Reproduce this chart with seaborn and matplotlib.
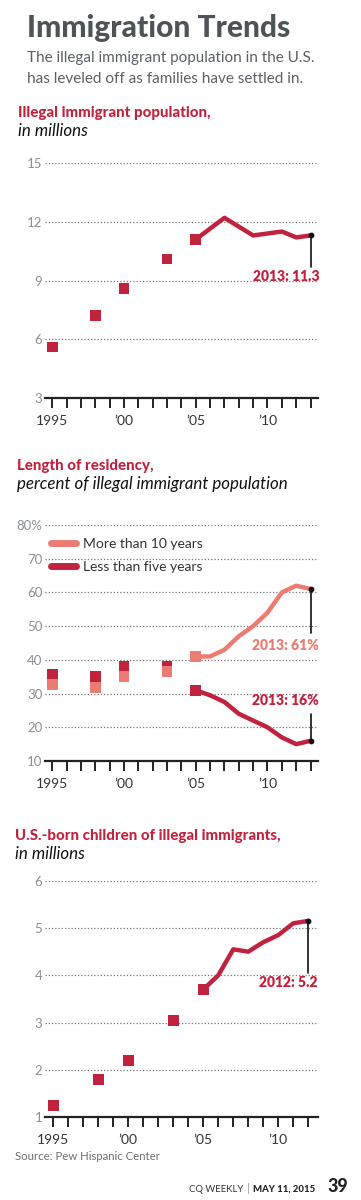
import numpy as np
import pandas as pd
import seaborn as sns
import matplotlib.pyplot as plt
from matplotlib.lines import Line2D

sns.set_theme(style="white")
plt.rcParams['font.family'] = ['Lato', 'DejaVu Sans']

CRIMSON = "#c1233f"
SALMON = "#ec7c73"
GREY_T = "#4c5456"
GREY_S = "#5b6064"
GREY_TICK = "#8b9095"

# illegal immigrant population, millions
pop_sq_years = [1995, 1998, 2000, 2003, 2005]
pop_sq = [5.6, 7.2, 8.6, 10.1, 11.1]
pop_line_years = [2005, 2007, 2009, 2011, 2012, 2013]
pop_line = [11.1, 12.2, 11.3, 11.5, 11.2, 11.3]

# length of residency, percent
res_sq_years = [1995, 1998, 2000, 2003, 2005]
long_sq = [32.7, 31.7, 35.0, 36.5, 41.0]
short_sq = [35.7, 35.0, 38.0, 38.0, 31.0]
res_line_years = [2005, 2006, 2007, 2008, 2009, 2010, 2011, 2012, 2013]
long_line = [41, 41, 43, 47, 50, 54, 60, 62, 61]
short_line = [31, 29.5, 27.5, 24, 22, 20, 17, 15, 16]

# US-born children, millions
kids_sq_years = [1995, 1998, 2000, 2003, 2005]
kids_sq = [1.25, 1.8, 2.2, 3.05, 3.7]
kids_line_years = [2005, 2006, 2007, 2008, 2009, 2010, 2011, 2012]
kids_line = [3.7, 4.0, 4.55, 4.5, 4.7, 4.85, 5.1, 5.15]

fig = plt.figure(figsize=(3.61, 12), dpi=100)
W, H = 361, 1200


def px_axes(left, top, right, bottom):
    return fig.add_axes([left / W, 1 - bottom / H, (right - left) / W, (bottom - top) / H])


def style_axis(ax, xlim, ylim, yticks, ylabels, last_year):
    ax.set_xlim(*xlim)
    ax.set_ylim(*ylim)
    for s in ['top', 'right', 'left']:
        ax.spines[s].set_visible(False)
    ax.spines['bottom'].set_color('#222222')
    ax.spines['bottom'].set_linewidth(1.6)
    ax.set_yticks(yticks)
    ax.set_yticklabels(ylabels)
    ax.tick_params(axis='y', length=0, pad=2, labelsize=9.5, labelcolor=GREY_TICK)
    yrs = list(range(1995, last_year + 1))
    ax.set_xticks(yrs)
    ax.set_xticklabels([{1995: '1995', 2000: '\u201900', 2005: '\u201905', 2010: '\u201910'}.get(y, '') for y in yrs])
    ax.tick_params(axis='x', direction='out', length=7, width=1.4, color='#222222',
                   pad=5, labelsize=10, labelcolor='#333333', bottom=True)
    for y in yticks[1:]:
        ax.axhline(y, color='#777777', lw=0.9, ls=(0, (1, 1.6)), zorder=0)
    ax.set_xlabel('')
    ax.set_ylabel('')


def callout(ax, x, y, y_end, text, color, ty):
    ax.plot([x, x], [y, y_end], color='#111111', lw=1.2, zorder=5)
    ax.scatter([x], [y], s=10, color='#111111', zorder=6)
    ax.text(x + 0.6, ty, text, color=color, fontsize=10, fontweight='heavy',
            ha='right', va='center')


def panel_title(x, y, bold, italic):
    fig.text(x / W, 1 - y / H, bold, fontsize=10.8, fontweight='black',
             color=CRIMSON, va='center')
    fig.text(x / W, 1 - (y + 18) / H, italic, fontsize=12.2, style='italic',
             color='#111111', va='center')


# --- header ---
fig.text(27 / W, 1 - 28 / H, "Immigration Trends", fontsize=21.5, fontweight='black',
         color=GREY_T, va='center')
fig.text(27 / W, 1 - 58 / H, "The illegal immigrant population in the U.S.",
         fontsize=11, color=GREY_S, va='center')
fig.text(27 / W, 1 - 79 / H, "has leveled off as families have settled in.",
         fontsize=11, color=GREY_S, va='center')

# --- panel 1 ---
panel_title(18, 113, "Illegal immigrant population,", "in millions")
ax1 = px_axes(45.1, 163, 317.7, 398)
sns.lineplot(x=pop_line_years, y=pop_line, ax=ax1, color=CRIMSON, lw=3.2, zorder=3)
sns.scatterplot(x=pop_sq_years, y=pop_sq, ax=ax1, marker='s', s=60, color=CRIMSON,
                edgecolor='none', zorder=4)
style_axis(ax1, (1994.5, 2013.5), (3, 15), [3, 6, 9, 12, 15],
           ['3', '6', '9', '12', '15'], 2013)
callout(ax1, pop_line_years[-1], pop_line[-1], 9.7, "2013: 11.3", CRIMSON, 9.2)

# --- panel 2 ---
panel_title(17, 466, "Length of residency,", "percent of illegal immigrant population")
ax2 = px_axes(45.1, 525, 317.7, 761)
sns.scatterplot(x=res_sq_years, y=short_sq, ax=ax2, marker='s', s=60, color=CRIMSON,
                edgecolor='none', zorder=3)
sns.scatterplot(x=res_sq_years, y=long_sq, ax=ax2, marker='s', s=60, color=SALMON,
                edgecolor='none', zorder=3)
sns.lineplot(x=res_line_years, y=long_line, ax=ax2, color=SALMON, lw=3.2, zorder=4)
sns.lineplot(x=res_line_years, y=short_line, ax=ax2, color=CRIMSON, lw=3.2, zorder=4)
style_axis(ax2, (1994.5, 2013.5), (10, 80), [10, 20, 30, 40, 50, 60, 70, 80],
           ['10', '20', '30', '40', '50', '60', '70', '80%'], 2013)
callout(ax2, res_line_years[-1], long_line[-1], 48, "2013: 61%", SALMON, 44.2)
callout(ax2, res_line_years[-1], short_line[-1], 24, "2013: 16%", CRIMSON, 27.8)
handles = [Line2D([], [], color=SALMON, lw=5, solid_capstyle='round'),
           Line2D([], [], color=CRIMSON, lw=5, solid_capstyle='round')]
ax2.legend(handles, ["More than 10 years", "Less than five years"], loc='upper left',
           bbox_to_anchor=(-0.015, 0.985), frameon=False, fontsize=10, handlelength=1.8,
           handletextpad=0.55, labelspacing=0.75, borderaxespad=0.3,
           labelcolor='#333333')

# --- panel 3 ---
panel_title(15, 836, "U.S.-born children of illegal immigrants,", "in millions")
ax3 = px_axes(45.0, 880.7, 318.3, 1117.3)
sns.lineplot(x=kids_line_years, y=kids_line, ax=ax3, color=CRIMSON, lw=3.2, zorder=3)
sns.scatterplot(x=kids_sq_years, y=kids_sq, ax=ax3, marker='s', s=60, color=CRIMSON,
                edgecolor='none', zorder=4)
style_axis(ax3, (1994.45, 2012.67), (1, 6), [1, 2, 3, 4, 5, 6],
           ['1', '2', '3', '4', '5', '6'], 2012)
callout(ax3, kids_line_years[-1], kids_line[-1], 4.05, "2012: 5.2", CRIMSON, 3.85)

# --- footer ---
fig.text(15 / W, 1 - 1157 / H, "Source: Pew Hispanic Center", fontsize=8.2,
         color='#6a6f73', va='center')
fig.text(243 / W, 1 - 1189 / H, "CQ WEEKLY", fontsize=6.8, color='#333333',
         va='center', ha='right')
fig.text(248 / W, 1 - 1188 / H, "|", fontsize=8, color='#999999', va='center', ha='center')
fig.text(253 / W, 1 - 1189 / H, "MAY 11, 2015", fontsize=6.8, fontweight='black',
         color='#222222', va='center')
fig.text(327 / W, 1 - 1187 / H, "39", fontsize=13, fontweight='black',
         color='#222222', va='center')

fig.savefig('out.png', dpi=100)
